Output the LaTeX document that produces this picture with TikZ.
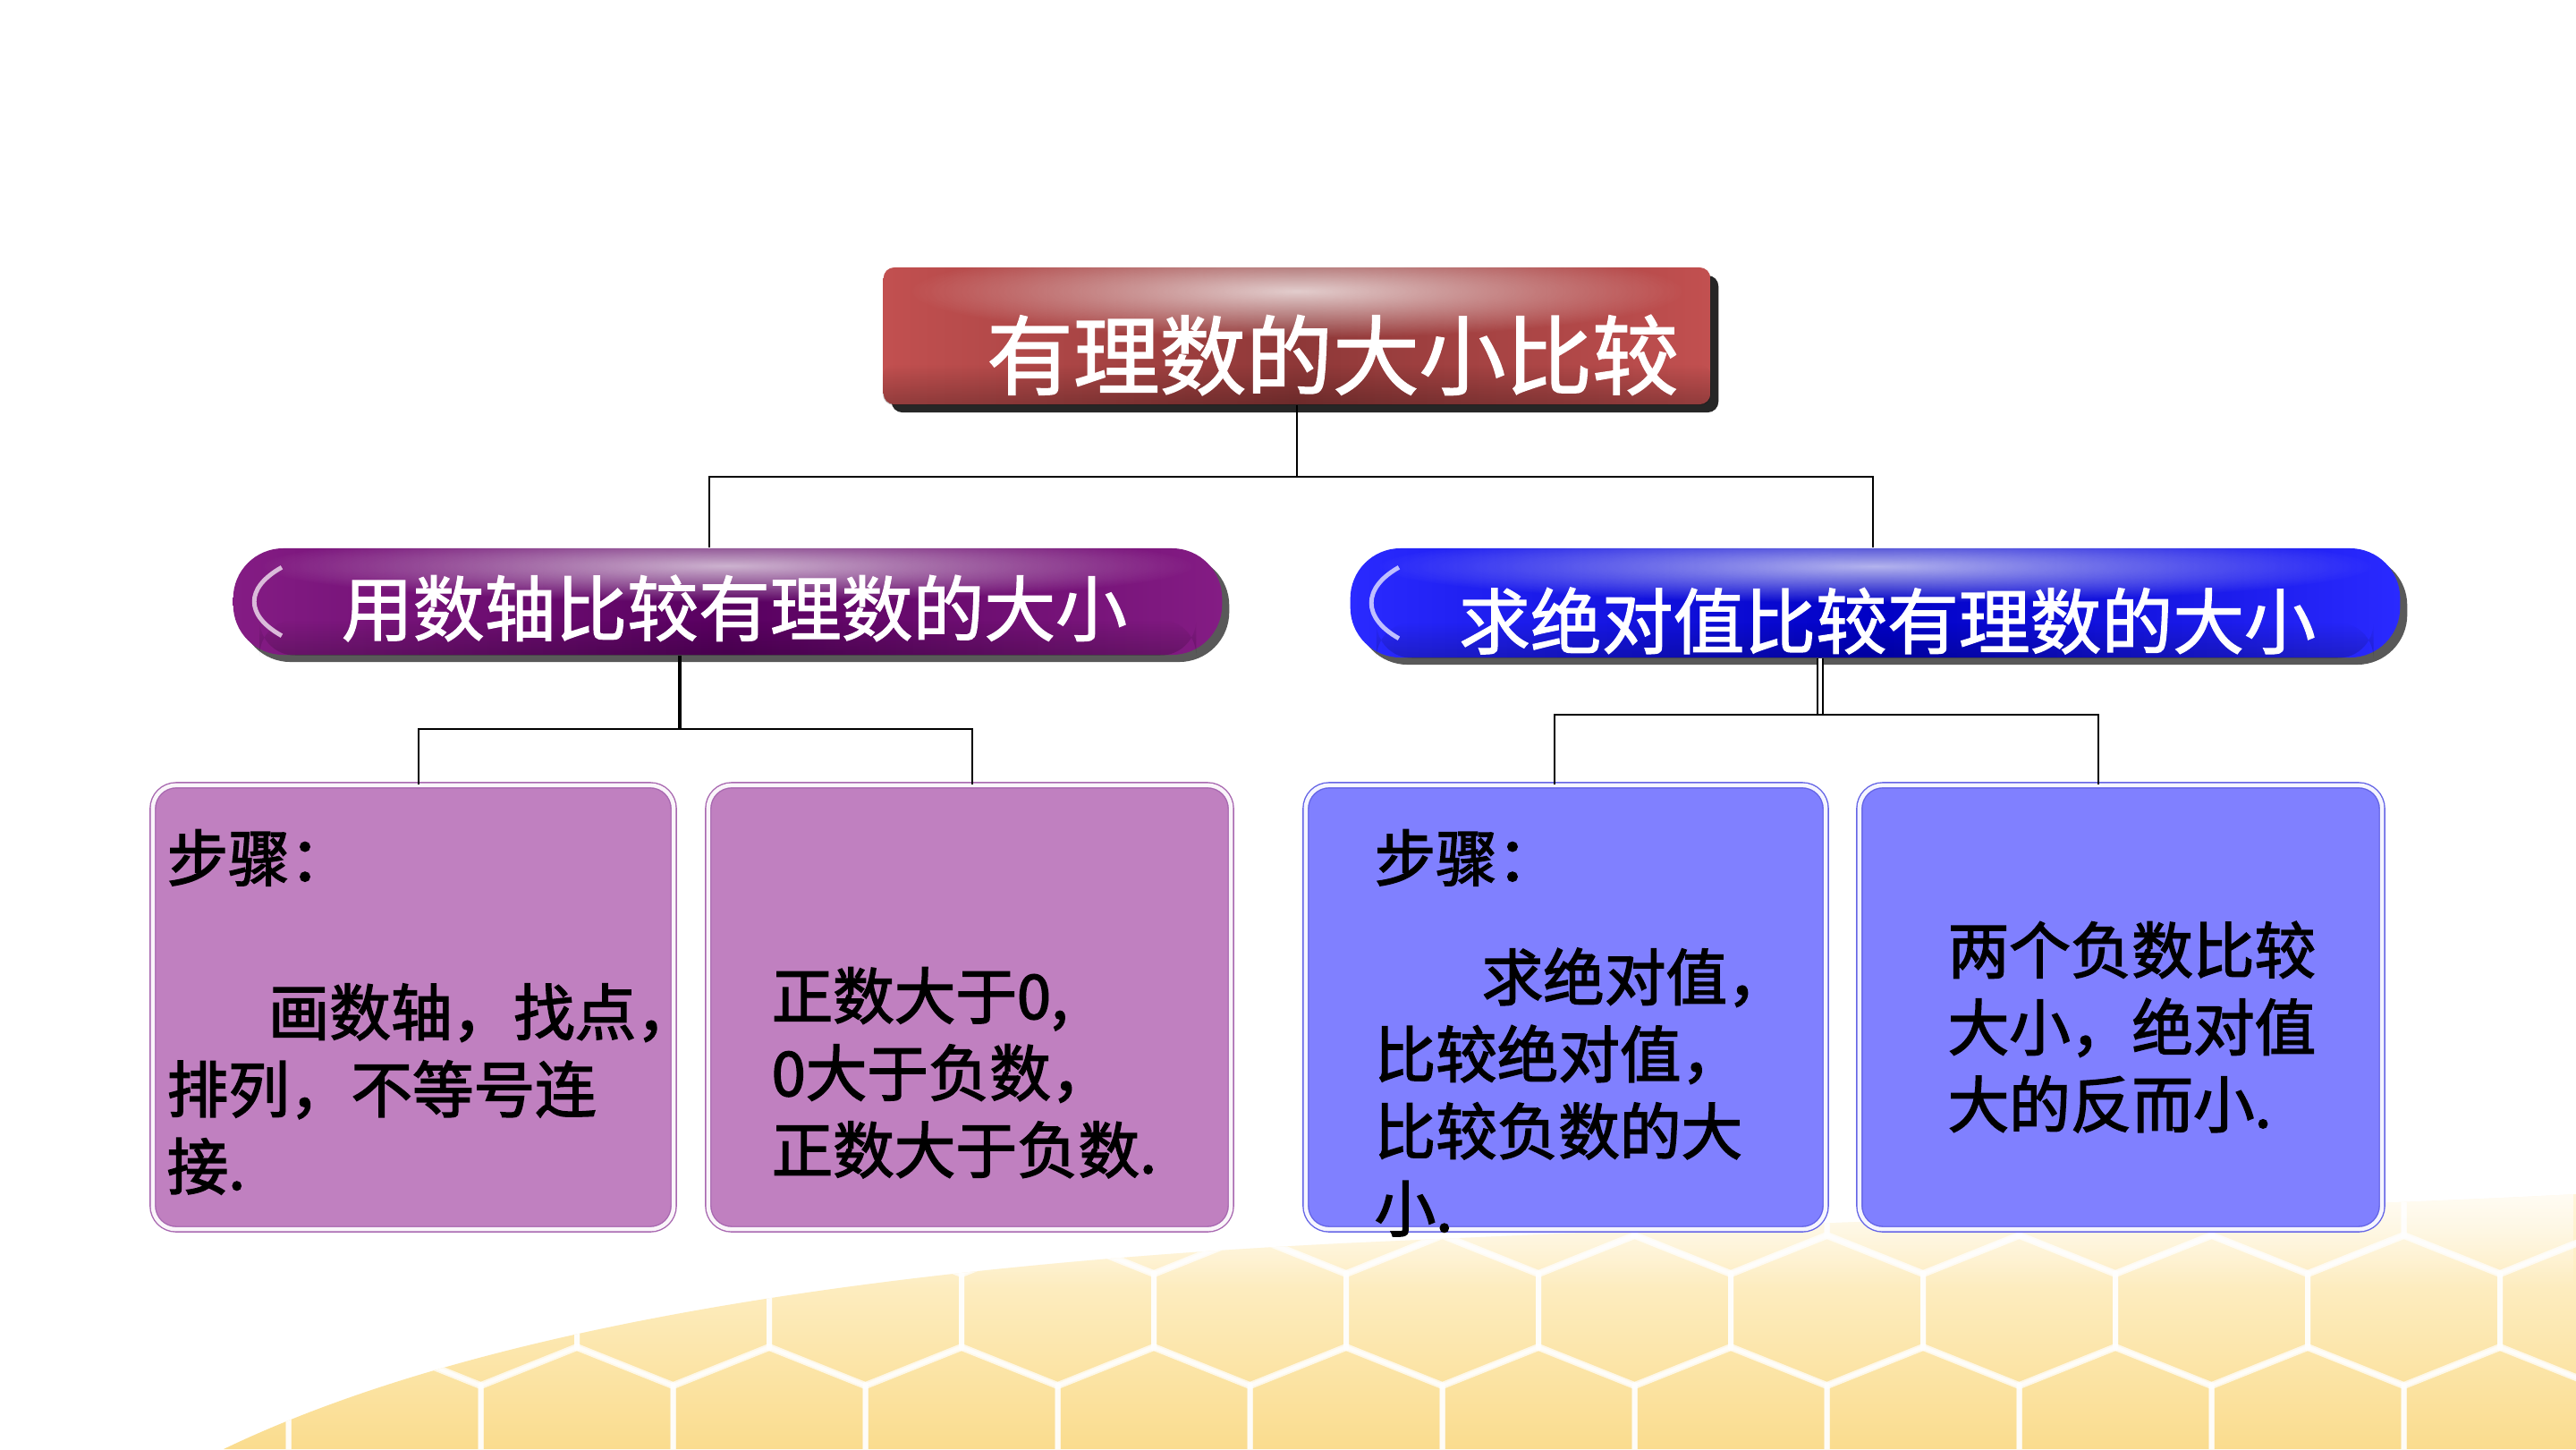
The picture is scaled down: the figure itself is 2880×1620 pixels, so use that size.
\documentclass[tikz,border=0pt]{standalone}
\usepackage{fontspec}
\setmainfont{Noto Sans CJK SC}
\newfontfamily\leaffont{Noto Sans CJK SC}[FakeBold=2.2]
\newfontfamily\headfont{Noto Sans CJK SC}[FakeBold=1.5]
\usetikzlibrary{calc,fadings,shadows}
\tikzfading[name=glow, inner color=transparent!0, outer color=transparent!100]
\definecolor{redEdge}{HTML}{C25050}
\definecolor{redMid}{HTML}{8E3838}
\definecolor{purpEdge}{HTML}{841C84}
\definecolor{purpMid}{HTML}{580060}
\definecolor{blueEdge}{HTML}{2A2AFF}
\definecolor{blueMid}{HTML}{0000C4}
\definecolor{boxPurp}{HTML}{C080C0}
\definecolor{boxPurpLine}{HTML}{A868B0}
\definecolor{boxBlue}{HTML}{8080FF}
\definecolor{boxBlueLine}{HTML}{6464E6}
\definecolor{hexLight}{HTML}{FFF6DC}
\definecolor{hexDark}{HTML}{FADC8E}
\tikzset{
  conn/.style={draw=black, line width=0.8pt},
  topbox/.style={rectangle, rounded corners=0.12cm, minimum width=9.24cm, minimum height=1.53cm, inner sep=0pt,
    left color=redEdge, right color=redEdge, middle color=redMid,
    drop shadow={shadow xshift=0.09cm, shadow yshift=-0.09cm, fill=black!85, opacity=1}},
  pill/.style={rectangle, rounded corners=0.56cm, inner sep=0pt,
    drop shadow={shadow xshift=0.08cm, shadow yshift=-0.08cm, fill=black!65, opacity=1}},
  purppill/.style={pill, left color=purpEdge, right color=purpEdge, middle color=purpMid},
  bluepill/.style={pill, left color=blueEdge, right color=blueEdge, middle color=blueMid},
  headtext/.style={text=white, inner sep=0pt, font=\headfont\fontsize{22.7}{24}\selectfont},
  leafbox/.style={rectangle, rounded corners=0.26cm, minimum height=4.96cm, inner sep=0pt, line width=0.4pt, double distance=0.045cm},
  purpleaf/.style={leafbox, fill=boxPurp, draw=boxPurpLine, double=white!92!boxPurp},
  blueleaf/.style={leafbox, fill=boxBlue, draw=boxBlueLine, double=white!92!boxBlue},
  leaftext/.style={anchor=base west, inner sep=0pt, font=\leaffont\fontsize{19.5}{24.5}\selectfont},
  hexline/.style={draw=white, line width=0.06cm, opacity=0.75},
  shine/.style={fill=white, path fading=glow},
  darkband/.style={fill=black, path fading=north}
}
\begin{document}
\begin{tikzpicture}[x=0.01cm, y=-0.01cm]
\useasboundingbox (0,0) rectangle (2880,1620);
\fill[white] (0,0) rectangle (2880,1620);

% honeycomb background
\begin{scope}
\clip (250,1620) .. controls (500,1500) and (900,1420) .. (1500,1390) .. controls (2100,1362) and (2600,1350) .. (2880,1335) -- (2880,1620) -- cycle;
\shade[top color=hexLight, bottom color=hexDark] (0,1330) rectangle (2880,1620);
\foreach \r in {0,...,3} {
  \foreach \c in {-1,...,14} {
    \pgfmathsetmacro{\cx}{\c*215 + mod(\r,2)*107.5}
    \pgfmathsetmacro{\cy}{1340 + \r*125}
    \draw[hexline] (\cx,\cy-85) -- (\cx+107.5,\cy-42) -- (\cx+107.5,\cy+42) -- (\cx,\cy+85) -- (\cx-107.5,\cy+42) -- (\cx-107.5,\cy-42) -- cycle;
  }
}
\fill[white, path fading=south, opacity=0.7] (0,1330) rectangle (2880,1440);
\end{scope}

% top box
\node[topbox] (top) at (1450,375.5) {};
\fill[shine, opacity=0.75] ([xshift=0.3cm,yshift=0.25cm]top.north west) rectangle ([xshift=-0.3cm,yshift=0.75cm]top.south east);
\fill[darkband, opacity=0.25, rounded corners=0.12cm] ([yshift=0.45cm]top.south west) rectangle (top.south east);
\node[headtext, font=\headfont\fontsize{27.5}{30}\selectfont] (toptext) at (1490,397) {有理数的大小比较};

% second level pills
\node[purppill, minimum width=11.05cm, minimum height=1.19cm] (l1) at (813.5,672.5) {};
\fill[shine, opacity=0.7] ([xshift=0.3cm,yshift=0.2cm]l1.north west) rectangle ([xshift=-0.3cm,yshift=0.6cm]l1.south east);
\fill[darkband, opacity=0.2, rounded corners=0.4cm] ([xshift=0.3cm,yshift=0.4cm]l1.south west) rectangle ([xshift=-0.3cm]l1.south east);
\draw[white!70!purpEdge, line width=1.4pt] ($(l1.north west)+(55,22)$) .. controls ($(l1.north west)+(14,45)$) and ($(l1.south west)+(14,-45)$) .. ($(l1.south west)+(55,-22)$);
\node[headtext] (l1text) at (821,680) {用数轴比较有理数的大小};

\node[bluepill, minimum width=11.73cm, minimum height=1.22cm] (r1) at (2096.5,674) {};
\fill[shine, opacity=0.7] ([xshift=0.3cm,yshift=0.2cm]r1.north west) rectangle ([xshift=-0.3cm,yshift=0.62cm]r1.south east);
\fill[darkband, opacity=0.2, rounded corners=0.4cm] ([xshift=0.3cm,yshift=0.4cm]r1.south west) rectangle ([xshift=-0.3cm]r1.south east);
\draw[white!70!blueEdge, line width=1.4pt] ($(r1.north west)+(55,22)$) .. controls ($(r1.north west)+(14,45)$) and ($(r1.south west)+(14,-45)$) .. ($(r1.south west)+(55,-22)$);
\node[headtext] (r1text) at (2110,694) {求绝对值比较有理数的大小};

% leaf boxes
\node[purpleaf, minimum width=5.82cm] (b1) at (462,1126) {};
\node[purpleaf, minimum width=5.84cm] (b2) at (1084,1126) {};
\node[blueleaf, minimum width=5.81cm] (b3) at (1750.5,1126) {};
\node[blueleaf, minimum width=5.84cm] (b4) at (2371,1126) {};

\node[leaftext] (t1) at (186,985) {\vtop{\hbox{步骤：}\hbox{}\hbox{\hspace{1.65em}画数轴，找点，}\hbox{排列，不等号连}\hbox{接.}}};
\node[leaftext] (t2) at (862,1139) {\vtop{\hbox{正数大于0,}\hbox{0大于负数，}\hbox{正数大于负数.}}};
\node[leaftext] (t3) at (1536,985) {\vtop{\hbox{步骤：}\vskip 0.47cm\hbox{\hspace{1.75em}求绝对值，}\hbox{比较绝对值，}\hbox{比较负数的大}\hbox{小.}}};
\node[leaftext] (t4) at (2177,1088) {\vtop{\hbox{两个负数比较}\hbox{大小，绝对值}\hbox{大的反而小.}}};

% connectors
\coordinate (busA) at (0,533);
\coordinate (busB) at (0,815);
\coordinate (busC) at (0,799);
\draw[conn] (top.south) -- (top.south |- busA);
\draw[conn] ([xshift=-0.205cm]l1.north) |- (top.south |- busA) -| ([xshift=-0.025cm]r1.north);
\draw[conn, line width=1.1pt] ([xshift=-0.535cm]l1.south) -- ([xshift=-0.535cm]l1.south |- busB);
\draw[conn] ([xshift=0.06cm]b1.north) |- ([xshift=0.03cm]b2.north |- busB) -- ([xshift=0.03cm]b2.north);
\draw[line width=0.6pt, double=white, double distance=0.04cm] ([xshift=-0.615cm]r1.south) -- ([xshift=-0.615cm]r1.south |- busC);
\draw[conn] ([xshift=-0.125cm]b3.north) |- ([xshift=-0.25cm]b4.north |- busC) -- ([xshift=-0.25cm]b4.north);
\end{tikzpicture}
\end{document}
